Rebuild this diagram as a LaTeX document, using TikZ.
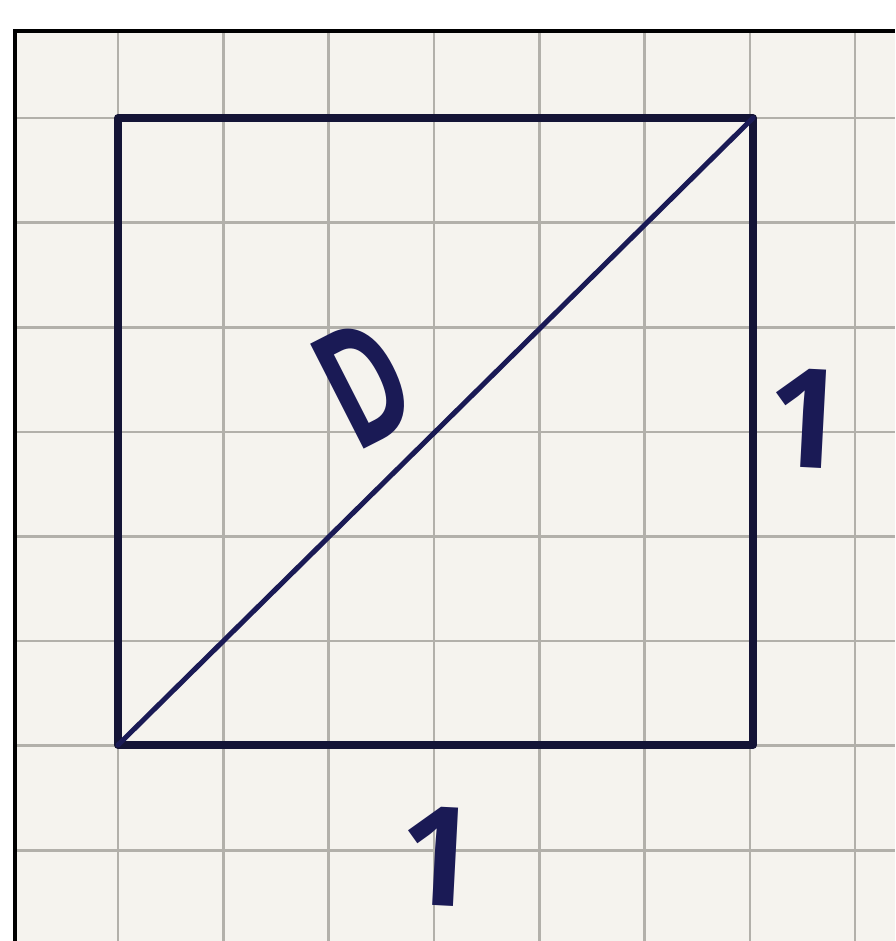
\documentclass[tikz,border=0pt]{standalone}
\usepackage{fontspec}
\setmainfont{Open Sans}
\newfontfamily\handfont{Open Sans}
\definecolor{paper}{HTML}{F5F3EE}
\definecolor{gridc}{HTML}{B2B0AA}
\definecolor{ink}{HTML}{1A1A55}
\definecolor{inkdark}{HTML}{141436}
\tikzset{
  gridline/.style={draw=gridc, line width=2.6pt},
  edge/.style={draw=inkdark, line width=8pt, line cap=round, line join=round},
  diag/.style={draw=ink, line width=5pt, line cap=round},
  hand/.style={text=ink, inner sep=0pt, font=\handfont},
}
\begin{document}
\begin{tikzpicture}[x=1pt,y=-1pt]
\useasboundingbox (0,0) rectangle (895,941);
\fill[white] (0,0) rectangle (895,941);
\fill[paper] (15,31) rectangle (895,941);
% grid
\foreach \k in {0,...,7} {
  \draw[gridline] ({118+105.3*\k},31) -- ({118+105.3*\k},941);
  \draw[gridline] (15,{118+104.6*\k}) -- (895,{118+104.6*\k});
}
% frame
\draw[black, line width=4pt] (15,941) -- (15,31) -- (895,31);
% square
\coordinate (A) at (118,745);
\coordinate (B) at (753,745);
\coordinate (C) at (753,118);
\coordinate (E) at (118,118);
\draw[edge] (A) -- (B) -- (C) -- (E) -- cycle;
\draw[diag] (A) -- (C);
% labels
\node[hand, rotate=27, xscale=0.65] (d) at (364,383) {\fontsize{165}{165}\selectfont\bfseries D};
\node[hand, rotate=-3] (r) at (806,418) {\fontsize{138}{138}\selectfont\bfseries 1};
\node[hand, rotate=-3] (b) at (438,856) {\fontsize{138}{138}\selectfont\bfseries 1};
\end{tikzpicture}
\end{document}
